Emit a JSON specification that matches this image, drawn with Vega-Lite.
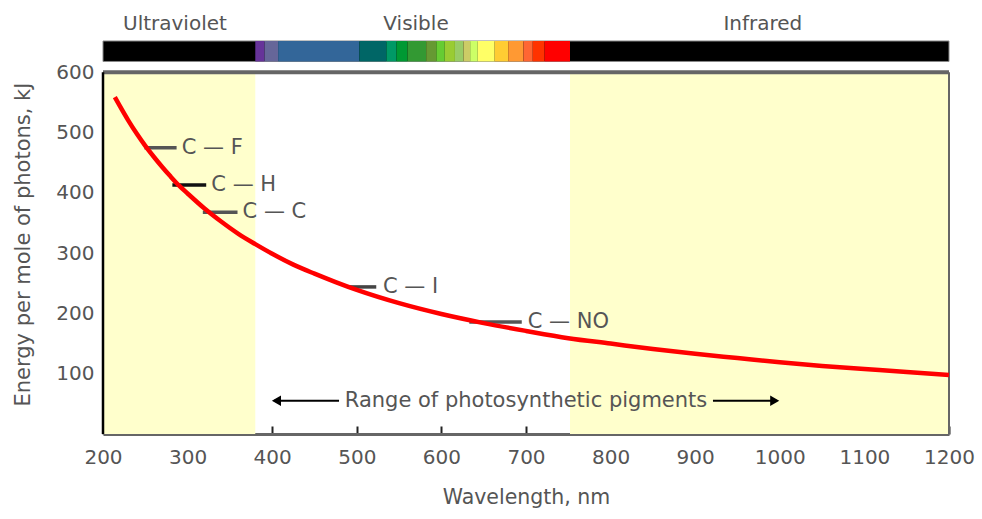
{
  "$schema": "https://vega.github.io/schema/vega-lite/v6.json",
  "width": 846,
  "height": 434,
  "autosize": {"type": "none"},
  "padding": {"left": 103, "top": 0, "right": 33, "bottom": 85},
  "background": "white",
  "config": {"view": {"stroke": null}, "font": "DejaVu Sans", "text": {"font": "DejaVu Sans"}},
  "datasets": {
    "bands": [{"x": 200, "x2": 380, "y": 0, "y2": 600}, {"x": 752, "x2": 1200, "y": 0, "y2": 600}],
    "topline": [{"x": 200, "x2": 1200, "y": 600}],
    "leftline": [{"x": 200, "y": 0, "y2": 600}],
    "rightline": [{"x": 1200, "y": 0, "y2": 600}],
    "bar": [{"x": 200, "x2": 1200, "y": 618, "y2": 652}],
    "spectrum": [
      {"x": 380, "x2": 391, "seg": "s01", "y": 618, "y2": 652},
      {"x": 391, "x2": 407, "seg": "s02", "y": 618, "y2": 652},
      {"x": 407, "x2": 503, "seg": "s03", "y": 618, "y2": 652},
      {"x": 503, "x2": 535, "seg": "s04", "y": 618, "y2": 652},
      {"x": 535, "x2": 547, "seg": "s05", "y": 618, "y2": 652},
      {"x": 547, "x2": 560, "seg": "s06", "y": 618, "y2": 652},
      {"x": 560, "x2": 582, "seg": "s07", "y": 618, "y2": 652},
      {"x": 582, "x2": 594, "seg": "s08", "y": 618, "y2": 652},
      {"x": 594, "x2": 604, "seg": "s09", "y": 618, "y2": 652},
      {"x": 604, "x2": 616, "seg": "s10", "y": 618, "y2": 652},
      {"x": 616, "x2": 626, "seg": "s11", "y": 618, "y2": 652},
      {"x": 626, "x2": 634, "seg": "s12", "y": 618, "y2": 652},
      {"x": 634, "x2": 643, "seg": "s13", "y": 618, "y2": 652},
      {"x": 643, "x2": 663, "seg": "s14", "y": 618, "y2": 652},
      {"x": 663, "x2": 679, "seg": "s15", "y": 618, "y2": 652},
      {"x": 679, "x2": 697, "seg": "s16", "y": 618, "y2": 652},
      {"x": 697, "x2": 708, "seg": "s17", "y": 618, "y2": 652},
      {"x": 708, "x2": 722, "seg": "s18", "y": 618, "y2": 652},
      {"x": 722, "x2": 752, "seg": "s19", "y": 618, "y2": 652}
    ],
    "regions": [
      {"x": 285, "y": 681, "label": "Ultraviolet"},
      {"x": 570, "y": 681, "label": "Visible"},
      {"x": 980, "y": 681, "label": "Infrared"}
    ],
    "bonds": [
      {"x": 249, "x2": 287, "y": 475, "tx": 293, "bond": "C — F"},
      {"x": 282, "x2": 322, "y": 413, "tx": 328, "bond": "C — H"},
      {"x": 318, "x2": 359, "y": 368, "tx": 365, "bond": "C — C"},
      {"x": 489, "x2": 523, "y": 244, "tx": 531, "bond": "C — I"},
      {"x": 633, "x2": 695, "y": 186, "tx": 702, "bond": "C — NO"}
    ],
    "curve": [
      {"x": 214, "y": 559}, {"x": 220, "y": 544}, {"x": 230, "y": 520}, {"x": 240, "y": 498},
      {"x": 250, "y": 478}, {"x": 260, "y": 460}, {"x": 270, "y": 443}, {"x": 280, "y": 427},
      {"x": 290, "y": 412}, {"x": 300, "y": 399}, {"x": 320, "y": 374}, {"x": 340, "y": 352},
      {"x": 360, "y": 332}, {"x": 380, "y": 315}, {"x": 400, "y": 299}, {"x": 425, "y": 281},
      {"x": 450, "y": 266}, {"x": 475, "y": 252}, {"x": 500, "y": 239}, {"x": 550, "y": 217},
      {"x": 600, "y": 199}, {"x": 650, "y": 184}, {"x": 700, "y": 171}, {"x": 750, "y": 159},
      {"x": 800, "y": 150}, {"x": 850, "y": 141}, {"x": 900, "y": 133}, {"x": 950, "y": 126},
      {"x": 1000, "y": 119}, {"x": 1050, "y": 113}, {"x": 1100, "y": 108}, {"x": 1150, "y": 103},
      {"x": 1200, "y": 98}
    ],
    "arrowlines": [{"x": 402, "x2": 479, "y": 55}, {"x": 921, "x2": 996, "y": 55}],
    "arrowleft": [{"x": 405, "y": 55}],
    "arrowright": [{"x": 994, "y": 55}],
    "rangelabel": [{"x": 700, "y": 55, "label": "Range of photosynthetic pigments"}]
  },
  "layer": [
    {
      "data": {"name": "bands"},
      "mark": {"type": "rect", "color": "#ffffcc"},
      "encoding": {
        "x": {
          "field": "x", "type": "quantitative",
          "scale": {"domain": [200, 1200], "nice": false, "zero": false},
          "axis": {
            "values": [200, 300, 400, 500, 600, 700, 800, 900, 1000, 1100, 1200],
            "format": "d",
            "grid": false,
            "tickSize": -8, "tickColor": "#222", "tickWidth": 2,
            "domainColor": "#666", "domainWidth": 3,
            "labelPadding": 31, "labelFontSize": 20, "labelColor": "#555",
            "labelFont": "DejaVu Sans", "labelBaseline": "middle",
            "labelFlush": false, "labelOverlap": false,
            "title": "Wavelength, nm", "titleFont": "DejaVu Sans", "titleFontSize": 20.5,
            "titleFontWeight": "normal", "titleColor": "#555",
            "titleY": 63, "titleBaseline": "middle"
          }
        },
        "x2": {"field": "x2"},
        "y": {
          "field": "y", "type": "quantitative",
          "scale": {"domain": [0, 720], "nice": false, "zero": true},
          "axis": {
            "values": [100, 200, 300, 400, 500, 600],
            "format": "d",
            "grid": false, "domain": false,
            "tickSize": -6, "tickColor": "#111", "tickWidth": 2,
            "labelPadding": 15, "labelFontSize": 20, "labelColor": "#555",
            "labelFont": "DejaVu Sans", "labelOverlap": false, "labelFlush": false,
            "title": "Energy per mole of photons, kJ", "titleFont": "DejaVu Sans",
            "titleFontSize": 21, "titleFontWeight": "normal", "titleColor": "#555",
            "titleX": -80, "titleY": 244, "titleAngle": -90,
            "titleAlign": "center", "titleBaseline": "middle"
          }
        },
        "y2": {"field": "y2"}
      }
    },
    {
      "data": {"name": "topline"},
      "mark": {"type": "rule", "color": "#666", "strokeWidth": 4},
      "encoding": {"x": {"field": "x", "type": "quantitative"}, "x2": {"field": "x2"}, "y": {"field": "y", "type": "quantitative"}}
    },
    {
      "data": {"name": "leftline"},
      "mark": {"type": "rule", "color": "#000", "strokeWidth": 2.5},
      "encoding": {"x": {"field": "x", "type": "quantitative"}, "y": {"field": "y", "type": "quantitative"}, "y2": {"field": "y2"}}
    },
    {
      "data": {"name": "rightline"},
      "mark": {"type": "rule", "color": "#666", "strokeWidth": 2},
      "encoding": {"x": {"field": "x", "type": "quantitative"}, "y": {"field": "y", "type": "quantitative"}, "y2": {"field": "y2"}}
    },
    {
      "data": {"name": "bar"},
      "mark": {"type": "rect", "color": "#000", "stroke": "#888", "strokeWidth": 1},
      "encoding": {"x": {"field": "x", "type": "quantitative"}, "x2": {"field": "x2"}, "y": {"field": "y", "type": "quantitative"}, "y2": {"field": "y2"}}
    },
    {
      "data": {"name": "spectrum"},
      "mark": {"type": "rect"},
      "encoding": {
        "x": {"field": "x", "type": "quantitative"}, "x2": {"field": "x2"},
        "y": {"field": "y", "type": "quantitative"}, "y2": {"field": "y2"},
        "color": {
          "field": "seg", "type": "nominal", "legend": null,
          "scale": {
            "domain": ["s01","s02","s03","s04","s05","s06","s07","s08","s09","s10","s11","s12","s13","s14","s15","s16","s17","s18","s19"],
            "range": ["#663399","#666699","#336699","#006666","#009966","#009933","#339933","#669933","#66cc33","#99cc33","#99cc66","#cccc66","#ccff66","#ffff66","#ffcc33","#ff9933","#ff6633","#ff3300","#ff0000"]
          }
        }
      }
    },
    {
      "data": {"name": "regions"},
      "mark": {"type": "text", "fontSize": 20, "color": "#555", "align": "center", "baseline": "middle"},
      "encoding": {"x": {"field": "x", "type": "quantitative"}, "y": {"field": "y", "type": "quantitative"}, "text": {"field": "label"}}
    },
    {
      "data": {"name": "bonds"},
      "mark": {"type": "rule", "strokeWidth": 3.5},
      "encoding": {
        "x": {"field": "x", "type": "quantitative"}, "x2": {"field": "x2"},
        "y": {"field": "y", "type": "quantitative"},
        "stroke": {
          "field": "bond", "type": "nominal", "legend": null,
          "scale": {"domain": ["C — F", "C — H", "C — C", "C — I", "C — NO"], "range": ["#555", "#111", "#555", "#444", "#555"]}
        }
      }
    },
    {
      "data": {"name": "bonds"},
      "mark": {"type": "text", "fontSize": 21, "color": "#555", "align": "left", "baseline": "middle"},
      "encoding": {"x": {"field": "tx", "type": "quantitative"}, "y": {"field": "y", "type": "quantitative"}, "text": {"field": "bond"}}
    },
    {
      "data": {"name": "curve"},
      "mark": {"type": "line", "color": "#ff0000", "strokeWidth": 4.5, "interpolate": "monotone"},
      "encoding": {"x": {"field": "x", "type": "quantitative"}, "y": {"field": "y", "type": "quantitative"}}
    },
    {
      "data": {"name": "arrowlines"},
      "mark": {"type": "rule", "color": "#000", "strokeWidth": 2},
      "encoding": {"x": {"field": "x", "type": "quantitative"}, "x2": {"field": "x2"}, "y": {"field": "y", "type": "quantitative"}}
    },
    {
      "data": {"name": "arrowleft"},
      "mark": {"type": "point", "shape": "triangle-left", "filled": true, "color": "#000", "size": 110, "opacity": 1},
      "encoding": {"x": {"field": "x", "type": "quantitative"}, "y": {"field": "y", "type": "quantitative"}}
    },
    {
      "data": {"name": "arrowright"},
      "mark": {"type": "point", "shape": "triangle-right", "filled": true, "color": "#000", "size": 110, "opacity": 1},
      "encoding": {"x": {"field": "x", "type": "quantitative"}, "y": {"field": "y", "type": "quantitative"}}
    },
    {
      "data": {"name": "rangelabel"},
      "mark": {"type": "text", "fontSize": 21, "color": "#555", "align": "center", "baseline": "middle"},
      "encoding": {"x": {"field": "x", "type": "quantitative"}, "y": {"field": "y", "type": "quantitative"}, "text": {"field": "label"}}
    }
  ]
}
